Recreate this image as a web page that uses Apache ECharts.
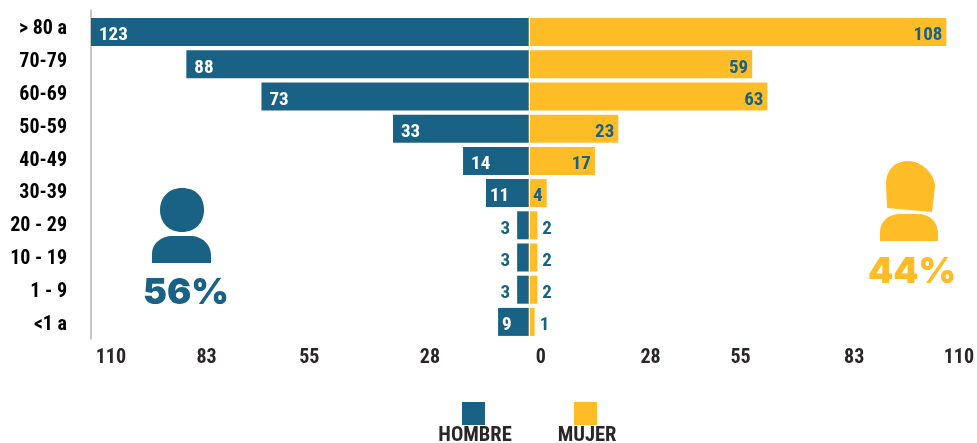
<!DOCTYPE html>
<html><head><meta charset="utf-8">
<style>html,body{margin:0;padding:0;background:#fff}#c{width:977px;height:443px}</style>
<script src="https://cdn.jsdelivr.net/npm/echarts@6/dist/echarts.min.js"></script>
</head><body><div id="c"></div>
<script>
const categories = ['> 80 a','70-79','60-69','50-59','40-49','30-39','20 - 29','10 - 19','1 - 9','<1 a'];
// printed values
const hombrePrinted = [123,88,73,33,14,11,3,3,3,9];
const mujerPrinted  = [108,59,63,23,17,4,2,2,2,1];
// drawn bar lengths as read on the axis (the picture's bars are not exactly proportional to the printed values)
const hombreDrawn = [123,88,68.7,34.9,16.9,11,3,3,3,7.9];
const mujerDrawn  = [107.3,57.4,61.3,23,17,4.6,2.2,2.2,2.2,1.5];
const tickPlaces = [-107.4,-82.8,-56.4,-25.4,3.1,31.3,54.4,83.6,110.5];
const tickLabels = ['110','83','55','28','0','28','55','83','110'];
const BLUE='#1a6285', YEL='#febc27', FONT='"Roboto Condensed","Roboto",sans-serif';
function labelFor(printed, drawn, side){
  const inside = drawn >= 4;
  return {
    show:true, formatter:String(printed),
    position: inside ? (side<0?'insideLeft':'insideRight') : (side<0?'left':'right'),
    distance: inside ? (side<0?(drawn<12?4:8):4) : (side<0?7:5),
    color: inside && side<0 ? '#fff' : BLUE,
    fontFamily:FONT, fontWeight:'bold', fontSize:19, padding:[3,0,0,0], offset:[0,3.5]
  };
}
const icons = [
  ['M182 188 C196 188 204 197 204 210 C204 223 195 232 182 232 C169 232 160 223 160 210 C160 197 169 188 182 188 Z',BLUE],
  ['M152 263 L152 254 C152 243 162 236 172 236 L190 236 C202 236 211 244 211 256 L211 263 Z',BLUE],
  ['M908 161 C922 161 935 174 935 187 L932 212 L887 208 L886 184 C886 170 895 161 908 161 Z',YEL],
  ['M880 241 L880 232 C880 221 889 214 900 214 L918 214 C930 214 938 222 938 234 L938 241 Z',YEL]
];
const chart = echarts.init(document.getElementById('c'),null,{renderer:'canvas'});
chart.setOption({
  animation:false,
  backgroundColor:'#fff',
  grid:[
    {left:91,top:10,width:886,height:329},
    {left:91,top:16,width:886,height:322},
    {left:91,top:12.5,width:886,height:329}
  ],
  xAxis:[
    {gridIndex:0,type:'value',min:0,max:1,show:false},
    {gridIndex:1,type:'value',min:-112.5,max:114.7,
     axisLine:{show:false},axisTick:{show:false},splitLine:{show:false},
     axisLabel:{customValues:tickPlaces,margin:10,hideOverlap:false,
       formatter:v=>tickLabels[tickPlaces.indexOf(v)],
       color:'#2a2526',fontFamily:FONT,fontWeight:'bold',fontSize:20}},
    {gridIndex:2,type:'value',min:0,max:1,show:false}
  ],
  yAxis:[
    {gridIndex:0,type:'category',inverse:true,data:categories,
     axisLine:{show:true,lineStyle:{color:'#b5b5b5',width:1.5}},axisTick:{show:false},axisLabel:{show:false}},
    {gridIndex:1,type:'category',inverse:true,data:categories,show:false},
    {gridIndex:2,type:'category',inverse:true,data:categories,
     axisLine:{show:false},axisTick:{show:false},
     axisLabel:{margin:24,color:'#000',fontFamily:FONT,fontWeight:'bold',fontSize:20}}
  ],
  legend:{left:457,top:397,itemWidth:23,itemHeight:23,itemGap:89,icon:'rect',
    data:['HOMBRE','MUJER'],formatter:()=>'',selectedMode:false},
  series:[
    {name:'HOMBRE',type:'bar',xAxisIndex:1,yAxisIndex:1,barWidth:28,barGap:'-100%',
     itemStyle:{color:BLUE},
     data:hombreDrawn.map((d,i)=>({value:-d,label:labelFor(hombrePrinted[i],d,-1)}))},
    {name:'MUJER',type:'bar',xAxisIndex:1,yAxisIndex:1,barWidth:28,barGap:'-100%',
     itemStyle:{color:YEL},
     data:mujerDrawn.map((d,i)=>({value:d,label:labelFor(mujerPrinted[i],d,1)})),
     markLine:{silent:true,symbol:'none',label:{show:false},lineStyle:{color:'#fff',width:1,type:'solid'},data:[{xAxis:0}]}},
    {type:'custom',xAxisIndex:0,yAxisIndex:0,clip:false,silent:true,data:[[0,0]],
     renderItem:()=>({type:'group',children:icons.map(ic=>{
       const nums=ic[0].match(/-?\d+(\.\d+)?/g).map(Number);
       const xs=nums.filter((_,i)=>i%2==0), ys=nums.filter((_,i)=>i%2==1);
       const x=Math.min(...xs), y=Math.min(...ys);
       return {type:'path',shape:{pathData:ic[0],layout:'cover',x,y,width:Math.max(...xs)-x,height:Math.max(...ys)-y},style:{fill:ic[1]}};
     })})}
  ],
  graphic:[
    {type:'text',x:186,y:293,style:{text:'56%',fill:BLUE,font:'900 36px Inter, sans-serif',textAlign:'center',textVerticalAlign:'middle'}},
    {type:'text',x:912,y:272,style:{text:'44%',fill:YEL,font:'900 36px Inter, sans-serif',textAlign:'center',textVerticalAlign:'middle'}},
    {type:'text',x:475,y:436,style:{text:'HOMBRE',fill:'#2a2526',font:'bold 20.5px "Roboto Condensed", Roboto, sans-serif',textAlign:'center',textVerticalAlign:'middle'}},
    {type:'text',x:587,y:436,style:{text:'MUJER',fill:'#2a2526',font:'bold 20.5px "Roboto Condensed", Roboto, sans-serif',textAlign:'center',textVerticalAlign:'middle'}}
  ]
});
</script></body></html>
